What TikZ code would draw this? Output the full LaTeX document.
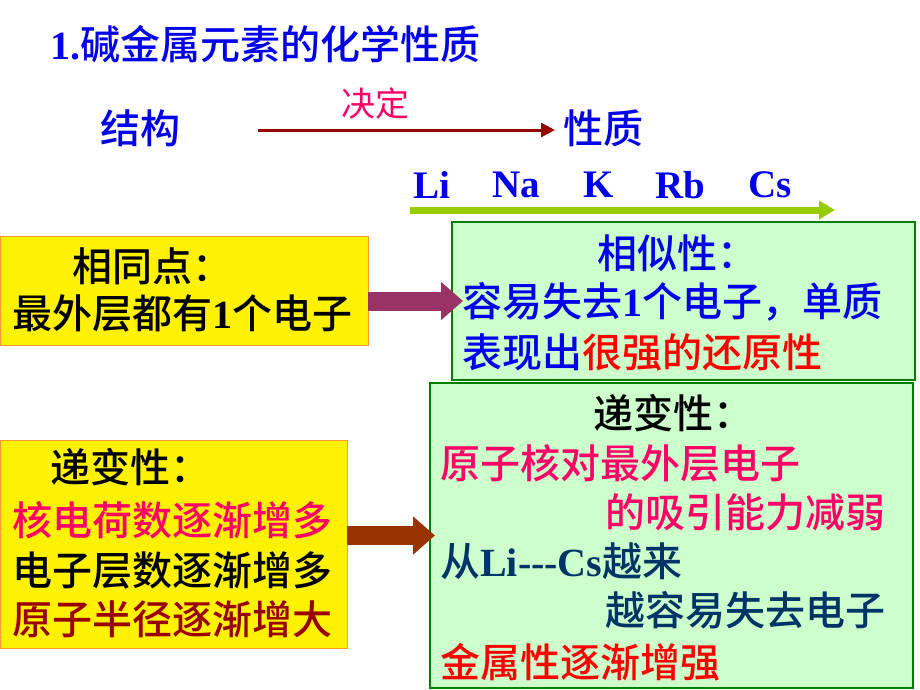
\documentclass[tikz,border=0pt]{standalone}
\usepackage{fontspec}
\setmainfont{Liberation Serif}
\newfontfamily\cjk{Noto Sans CJK SC}[BoldFont={Noto Sans CJK SC Medium}]
\usetikzlibrary{arrows.meta}

\definecolor{textblue}{RGB}{0,0,235}
\definecolor{hotpink}{RGB}{255,0,102}
\definecolor{darkred}{RGB}{153,0,0}
\definecolor{navy}{RGB}{0,51,102}
\definecolor{boxorange}{RGB}{255,153,51}
\definecolor{boxgreen}{RGB}{0,128,0}
\definecolor{boxfill}{RGB}{204,255,204}
\definecolor{plum}{RGB}{153,51,102}
\definecolor{rust}{RGB}{153,51,0}
\definecolor{limegreen}{RGB}{153,204,0}

\newcommand\en[1]{{\rmfamily #1}}

\begin{document}
\begin{tikzpicture}[x=1pt, y=-1pt,
	txt/.style={inner sep=0pt, anchor=west, font=\fontsize{40}{48}\selectfont\bfseries\cjk},
	elem/.style={inner sep=0pt, anchor=west, text=textblue, font=\fontsize{39}{46}\selectfont\bfseries},
	ybox/.style={draw=boxorange, fill=yellow, line width=1pt, inner sep=0pt, outer sep=0pt},
	gbox/.style={draw=boxgreen, fill=boxfill, line width=1.5pt, inner sep=0pt, outer sep=0pt},
	fatarrow/.style={line width=19pt, -{Triangle[length=22pt, width=37pt]}}
	]
	\useasboundingbox (0,0) rectangle (920,690);
	
	% heading
	\node[txt, text=textblue] (title) at (50,44) {\en{1.}碱金属元素的化学性质};
	
	\node[txt, text=textblue] (jg) at (100,128) {结构};
	\node[txt, text=textblue] (xz) at (563,128) {性质};
	\node[inner sep=0pt, text=hotpink, font=\fontsize{34}{40}\selectfont\cjk] (jd) at (375,104) {决定};
	\coordinate (jgend) at (258,130);
	\draw[darkred, line width=3pt, -{Triangle[length=14pt, width=14pt]}] (jgend) -- ([xshift=-8pt, yshift=-2pt]xz.west);
	
	\foreach \el/\x in {Li/413, Na/492, K/583, Rb/655, Cs/748}
		\node[elem] (\el) at (\x,185) {\el};
	
	\coordinate (gstart) at (410,210);
	\coordinate (gend) at (835,210);
	\draw[limegreen, line width=7pt, -{Triangle[length=16pt, width=18pt]}] (gstart) -- (gend);
	
	% boxes
	\node[ybox, minimum width=368pt, minimum height=109pt] (same) at (184,290.5) {};
	\node[ybox, minimum width=347pt, minimum height=208pt] (trend) at (173.5,544) {};
	\node[gbox, minimum width=463pt, minimum height=158pt] (sim) at (683.5,301) {};
	\node[gbox, minimum width=483pt, minimum height=305pt] (change) at (671.5,535.5) {};
	
	\draw[plum, fatarrow] (same.east |- sim.west) -- ([xshift=11pt]sim.west);
	\draw[rust, fatarrow] (trend.east |- change.west) -- ([xshift=5pt]change.west);
	
	% left texts
	\node[txt] (s1) at (72,266) {相同点：};
	\node[txt] (s2) at (12,313) {最外层都有\en{1}个电子};
	
	\node[txt] (t1) at (50,467) {递变性：};
	\node[txt, text=hotpink] (t2) at (12,520) {核电荷数逐渐增多};
	\node[txt] (t3) at (12,570) {电子层数逐渐增多};
	\node[txt, text=darkred] (t4) at (12,619) {原子半径逐渐增大};
	
	% right texts
	\node[txt, text=textblue] (m1) at (597,253) {相似性：};
	\node[txt, text=textblue] (m2) at (462,302) {容易失去\en{1}个电子，单质};
	\node[txt, text=textblue] (m3) at (462,352) {表现出\textcolor{red}{很强的还原性}};
	
	\node[txt] (c1) at (593,413) {递变性：};
	\node[txt, text=hotpink] (c2) at (440,463) {原子核对最外层电子};
	\node[txt, text=hotpink] (c3) at (605,512) {的吸引能力减弱};
	\node[txt, text=navy] (c4) at (440,561) {从\en{Li-{}-{}-Cs}越来};
	\node[txt, text=navy] (c5) at (605,610) {越容易失去电子};
	\node[txt, text=red] (c6) at (440,662) {金属性逐渐增强};
\end{tikzpicture}
\end{document}
